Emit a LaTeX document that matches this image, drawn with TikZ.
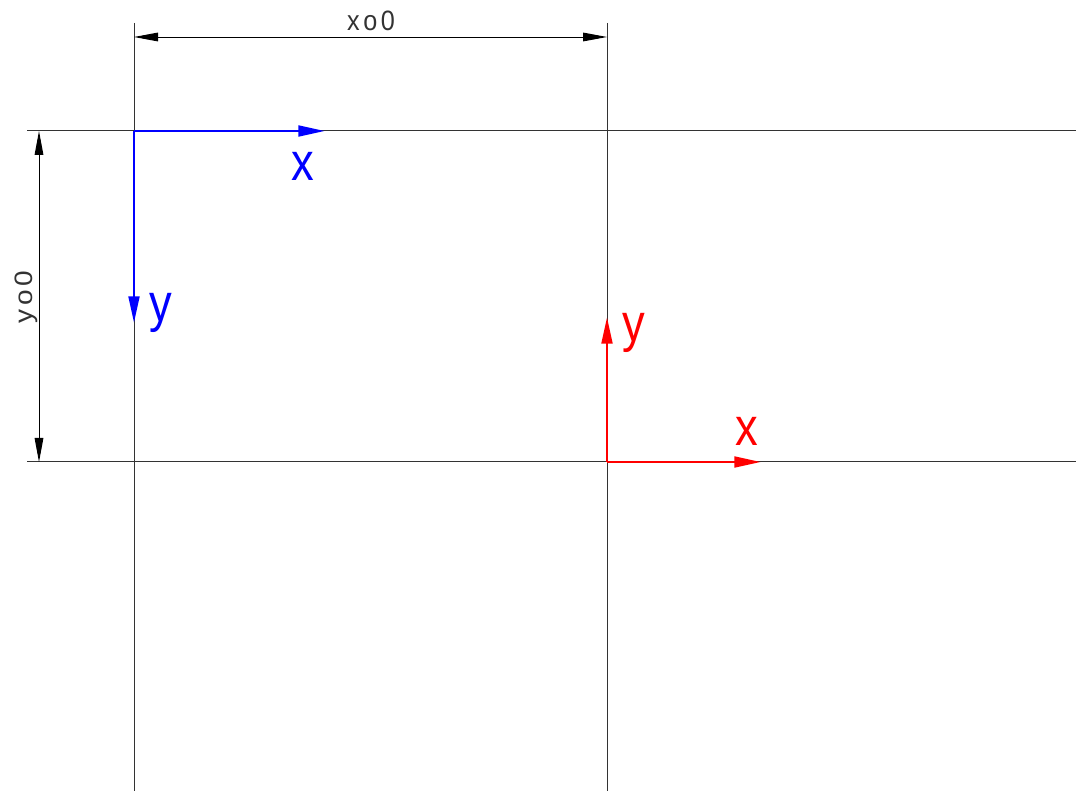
\documentclass[tikz,border=0pt]{standalone}
\usepackage{fontspec}
\setmainfont{Liberation Sans}
\usetikzlibrary{arrows.meta}
\begin{document}
\begin{tikzpicture}[x=0.75pt,y=-0.75pt,
  thinline/.style={line width=0.75pt,draw=black!80},
  dimline/.style={line width=0.7pt,draw=black,{Triangle[length=18pt,width=6.5pt]}-{Triangle[length=18pt,width=6.5pt]}},
  blueaxis/.style={line width=2.2pt,draw=blue,-{Triangle[length=20pt,width=8pt]}},
  redaxis/.style={line width=2.2pt,draw=red,-{Triangle[length=20pt,width=8pt]}},
  biglabel/.style={inner sep=0pt,font=\fontsize{40}{40}\selectfont,xscale=0.85},
  dimlabel/.style={inner sep=0pt,font=\fontsize{21}{21}\selectfont,xscale=0.9,text=black!80}]
\useasboundingbox (0,0) rectangle (1076,791);
% reference lines
\coordinate (v1t) at (134,23);  \coordinate (v1b) at (134,791);
\coordinate (v2t) at (607,23);  \coordinate (v2b) at (607,791);
\coordinate (h1l) at (27,131);  \coordinate (h1r) at (1076,131);
\coordinate (h2l) at (27,462);  \coordinate (h2r) at (1076,462);
\draw[thinline] (v1t) -- (v1b);
\draw[thinline] (v2t) -- (v2b);
\draw[thinline] (h1l) -- (h1r);
\draw[thinline] (h2l) -- (h2r);
% dimensions
\coordinate (dxa) at (134,37); \coordinate (dxb) at (607,37);
\draw[dimline] (dxa) -- (dxb);
\node[dimlabel] (xo) at (371,21) {x\kern3pt o\kern3pt 0};
\coordinate (dya) at (39,131); \coordinate (dyb) at (39,462);
\draw[dimline] (dya) -- (dyb);
\node[dimlabel,rotate=90] (yo) at (26,297) {y\kern3pt o\kern3pt 0};
% blue frame
\coordinate (bo) at (134,131);
\coordinate (bx) at (325,131);
\coordinate (by) at (134,323);
\draw[blueaxis] (bo) -- (bx);
\draw[blueaxis] (bo) -- (by);
\node[biglabel,text=blue] (bxl) at (303,166) {x};
\node[biglabel,text=blue] (byl) at (161,313) {y};
% red frame
\coordinate (ro) at (607,462);
\coordinate (rx) at (761,462);
\coordinate (ry) at (607,317);
\draw[redaxis] (ro) -- (rx);
\draw[redaxis] (ro) -- (ry);
\node[biglabel,text=red] (rxl) at (747,431) {x};
\node[biglabel,text=red] (ryl) at (634,333) {y};
\end{tikzpicture}
\end{document}
